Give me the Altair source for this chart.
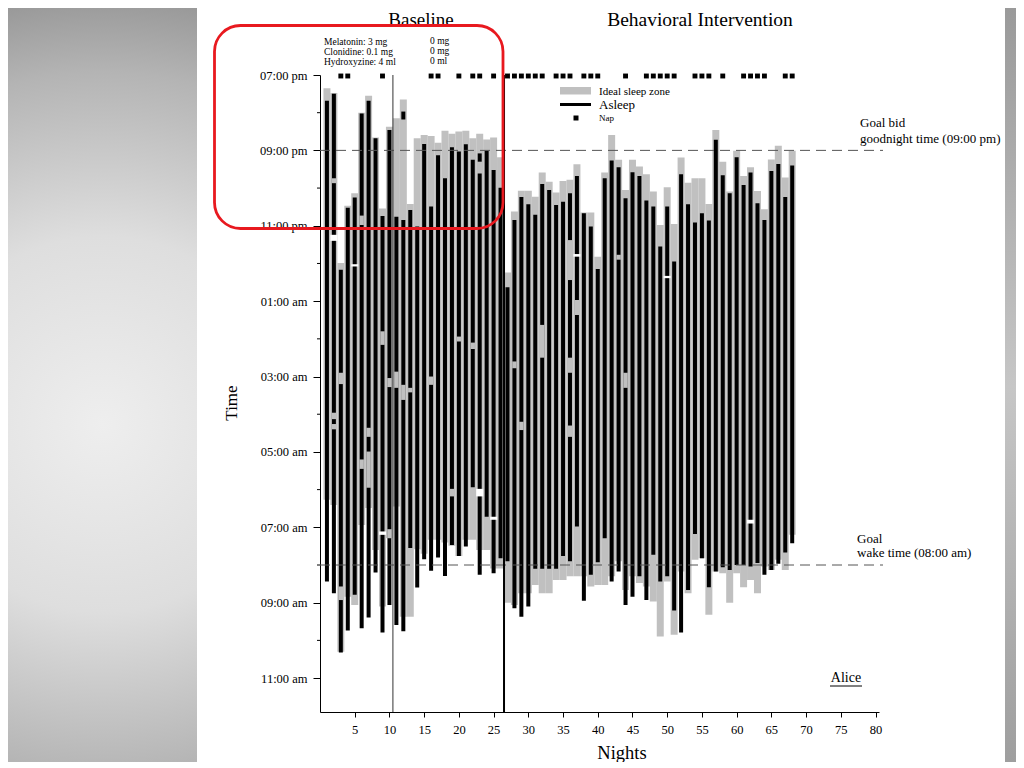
import altair as alt
import pandas as pd

# ---------------- data (hours after 07:00 pm) ----------------
nights = list(range(1, 69))

bed_start = [0.35, 0.48, 4.99, 3.47, 3.14, 1.00, 0.55, 1.66, 3.54, 1.37,
             1.15, 0.65, 3.42, 1.68, 1.59, 1.62, 1.80, 1.48, 1.56, 1.50,
             1.48, 1.68, 1.56, 1.71, 1.66, 2.18, 5.24, 3.62, 3.07, 3.07,
             3.23, 2.59, 2.83, 3.12, 2.81, 2.78, 2.37, 3.65, 3.65, 4.82,
             2.59, 1.59, 2.25, 3.05, 2.25, 2.43, 2.63, 3.09, 3.98, 2.98,
             3.95, 2.19, 2.86, 2.74, 2.74, 3.42, 1.46, 2.30, 3.09, 2.01,
             2.68, 2.45, 3.08, 3.56, 2.24, 1.88, 2.72, 2.01]
bed_end = [11.27, 11.41, 15.30, 13.84, 14.06, 11.94, 11.49, 12.60, 14.10, 12.29,
           11.45, 14.37, 14.37, 12.58, 12.70, 12.33, 12.33, 12.40, 12.49, 12.76,
           12.33, 12.33, 12.60, 12.60, 13.09, 13.09, 14.00, 14.06, 13.75, 13.75,
           13.53, 13.75, 13.75, 13.40, 13.40, 13.30, 13.30, 13.30, 13.57, 13.53,
           13.53, 13.30, 12.90, 13.66, 13.30, 13.48, 13.57, 13.97, 14.90, 13.44,
           14.85, 13.17, 13.75, 12.86, 12.82, 14.32, 13.17, 13.22, 14.00, 13.22,
           13.59, 13.40, 13.75, 13.04, 13.13, 12.86, 13.13, 12.20]
sleep_start = [0.68, 0.50, 5.17, 3.52, 3.25, 1.02, 0.68, 1.68, 3.74, 1.46,
               3.76, 3.85, 3.58, 4.02, 1.83, 3.49, 2.13, 2.74, 1.92, 2.03,
               1.84, 2.25, 2.61, 2.01, 2.52, 2.99, 5.63, 3.85, 3.24, 3.43,
               3.71, 2.89, 3.05, 3.45, 3.36, 3.14, 2.68, 3.67, 4.02, 5.15,
               2.74, 2.27, 2.45, 3.27, 2.58, 2.68, 3.33, 3.49, 4.55, 3.49,
               4.95, 2.63, 3.43, 3.91, 3.67, 3.86, 1.72, 2.66, 3.14, 2.18,
               2.92, 2.59, 3.40, 3.85, 2.55, 2.36, 3.24, 2.40]
sleep_end = [13.44, 13.75, 15.32, 14.74, 13.79, 14.68, 14.39, 13.20, 14.79, 14.06,
             14.59, 14.76, 12.55, 13.60, 12.85, 13.15, 12.80, 13.29, 12.47, 12.76,
             12.51, 10.94, 13.26, 11.72, 13.22, 12.82, 12.90, 14.15, 14.37, 14.10,
             13.10, 13.10, 13.10, 13.10, 12.76, 12.90, 11.98, 13.95, 13.26, 12.93,
             12.29, 13.44, 13.17, 14.06, 13.84, 13.30, 13.93, 12.73, 13.44, 13.30,
             14.21, 14.79, 13.66, 12.18, 12.82, 13.59, 13.17, 13.06, 13.13, 13.00,
             13.00, 13.04, 12.95, 13.26, 13.13, 12.97, 12.67, 12.42]

# night awakenings while in bed (asleep bar interrupted)
wake_night = [2, 2, 2, 3, 3, 6, 6, 7, 7, 9, 10, 10, 11, 12, 13, 16, 19, 20, 22,
              28, 29, 32, 36, 36, 36, 37, 43, 44]
wake_start = [2.74, 8.96, 9.26, 7.90, 13.57, 3.73, 10.20, 9.36, 9.99, 6.80, 8.04,
              12.05, 7.87, 8.22, 8.30, 8.00, 10.98, 6.94, 7.10, 7.60, 9.20, 6.63,
              4.38, 7.50, 9.30, 5.97, 4.77, 7.90]
wake_end = [2.87, 9.13, 9.40, 8.20, 13.93, 3.98, 10.45, 9.60, 10.95, 7.16, 8.28,
            12.29, 8.30, 8.62, 8.42, 8.22, 11.18, 7.07, 7.27, 7.78, 9.42, 7.50,
            5.44, 7.90, 9.60, 6.37, 4.90, 8.30]

# out of bed during the night
out_night = [2, 5, 9, 23, 25, 37, 50, 62]
out_start = [4.24, 5.02, 12.11, 10.98, 11.72, 4.75, 5.33, 11.80]
out_end = [4.40, 5.08, 12.20, 11.18, 11.80, 4.82, 5.39, 11.90]

# early short sleep bouts
bout_night = [12, 23]
bout_start = [0.97, 2.08]
bout_end = [1.18, 2.30]

nap_nights = [3, 4, 9, 16, 17, 20, 22, 23, 25, 27, 28, 29, 30, 31, 32, 34, 35, 36,
              38, 39, 40, 44, 47, 48, 49, 50, 51, 54, 55, 56, 58, 61, 62, 63, 64,
              67, 68]

medication_change = [10.5]
phase_change = [26.5]
goal_hours = [2, 13]          # 09:00 pm bid goodnight, 08:00 am wake
minor_hours = [1, 3, 5, 7, 9, 11, 13, 15]
major_hours = [0, 2, 4, 6, 8, 10, 12, 14, 16]
hour_labels = ["07:00 pm", "09:00 pm", "11:00 pm", "01:00 am", "03:00 am",
               "05:00 am", "07:00 am", "09:00 am", "11:00 am"]
night_ticks = list(range(5, 81, 5))

# ---------------- tables ----------------
df = pd.DataFrame({"night": nights, "bed_start": bed_start, "bed_end": bed_end,
                   "sleep_start": sleep_start, "sleep_end": sleep_end})
wake_df = pd.DataFrame({"night": wake_night, "start": wake_start, "end": wake_end})
out_df = pd.DataFrame({"night": out_night, "start": out_start, "end": out_end})
bout_df = pd.DataFrame({"night": bout_night, "start": bout_start, "end": bout_end})
nap_df = pd.DataFrame({"night": nap_nights})
med_df = pd.DataFrame({"night": medication_change})
phase_df = pd.DataFrame({"night": phase_change})
goal_df = pd.DataFrame({"h": goal_hours})
minor_df = pd.DataFrame({"h": minor_hours})
one = pd.DataFrame({"k": [0]})

W, H = 559, 637
FONT = "Liberation Serif"
GRAY = "#c0c0c0"

xscale = alt.Scale(domain=[0, 80.5], nice=False, zero=False, padding=0)
yscale = alt.Scale(domain=[0, 16.9], nice=False, zero=False, reverse=True, padding=0)

label_expr = "[" + ",".join("'%s'" % l for l in hour_labels) + "][datum.value / 2]"

xaxis = alt.Axis(values=night_ticks, title=None, grid=False, tickSize=5,
                 labelPadding=6, labelFont=FONT, labelFontSize=12.5,
                 labelColor="black", domainColor="black", tickColor="black",
                 labelFlush=False, labelOverlap=False)
yaxis = alt.Axis(values=major_hours, labelExpr=label_expr, title=None, grid=False,
                 tickSize=7, labelPadding=6, labelFont=FONT, labelFontSize=12.5,
                 labelColor="black", domainColor="black", tickColor="black",
                 labelFlush=False, labelOverlap=False)


def X(f):
    return alt.X(f, type="quantitative", scale=xscale, axis=xaxis)


def Y(f):
    return alt.Y(f, type="quantitative", scale=yscale, axis=yaxis)


layers = []

# page background (slide frame)
grad_left = {"gradient": "radial", "x1": 0.5, "y1": 0.55, "r1": 0, "x2": 0.5, "y2": 0.55,
             "r2": 0.62,
             "stops": [{"offset": 0, "color": "#eeeeee"}, {"offset": 0.4, "color": "#dedede"},
                       {"offset": 0.75, "color": "#b4b4b4"}, {"offset": 1, "color": "#8a8a8a"}]}
grad_right = {"gradient": "linear", "x1": 0, "y1": 0, "x2": 0, "y2": 1,
              "stops": [{"offset": 0, "color": "#9a9a9a"}, {"offset": 0.5, "color": "#c6c6c6"},
                        {"offset": 1, "color": "#9e9e9e"}]}
layers.append(alt.Chart(one).mark_rect(fill=grad_left).encode(
    x=alt.value(-312), x2=alt.value(-123), y=alt.value(-67), y2=alt.value(690)))
layers.append(alt.Chart(one).mark_rect(fill=grad_right).encode(
    x=alt.value(685), x2=alt.value(700), y=alt.value(-67), y2=alt.value(690)))

# bars
layers.append(alt.Chart(df).mark_bar(color=GRAY, size=7).encode(
    x=X("night"), y=Y("bed_start"), y2="bed_end"))
layers.append(alt.Chart(df).mark_bar(color="black", size=4).encode(
    x=X("night"), y=Y("sleep_start"), y2="sleep_end"))
layers.append(alt.Chart(bout_df).mark_bar(color="black", size=4).encode(
    x=X("night"), y=Y("start"), y2="end"))
layers.append(alt.Chart(wake_df).mark_bar(color=GRAY, size=4.4).encode(
    x=X("night"), y=Y("start"), y2="end"))
layers.append(alt.Chart(out_df).mark_bar(color="white", size=7).encode(
    x=X("night"), y=Y("start"), y2="end"))

# naps on top line
layers.append(alt.Chart(nap_df).mark_square(size=24, color="black", opacity=1).encode(
    x=X("night"), y=alt.value(1)))

# minor hour ticks
layers.append(alt.Chart(minor_df).mark_rule(color="black").encode(
    y=Y("h"), x=alt.value(-3), x2=alt.value(0)))

# goal lines
layers.append(alt.Chart(goal_df).mark_rule(color="#555555", strokeDash=[10, 6], strokeWidth=1).encode(
    y=Y("h"), x=alt.value(0), x2=alt.value(563)))

# condition change lines
layers.append(alt.Chart(med_df).mark_rule(color="#333333", strokeWidth=1).encode(
    x=X("night"), y=alt.value(0), y2=alt.value(H)))
layers.append(alt.Chart(phase_df).mark_rule(color="black", strokeWidth=2).encode(
    x=X("night"), y=alt.value(0), y2=alt.value(H)))


def label(text, x, y, size, align="left", baseline="alphabetic", angle=0):
    return alt.Chart(one).mark_text(text=text, font=FONT, fontSize=size, align=align,
                                    baseline=baseline, angle=angle, color="black").encode(
        x=alt.value(x), y=alt.value(y))


# titles / annotations
layers += [
    label("Baseline", 101, -49, 19, align="center"),
    label("Behavioral Intervention", 380, -49, 19.5, align="center"),
    label("Melatonin: 3 mg", 4, -30.5, 9.5),
    label("Clonidine: 0.1 mg", 4, -20.5, 9.5),
    label("Hydroxyzine: 4 ml", 4, -10, 9.5),
    label("0 mg", 110, -31.5, 9.5),
    label("0 mg", 110, -21.5, 9.5),
    label("0 ml", 110, -11, 9.5),
    label("Goal bid", 540, 52, 13),
    label("goodnight time (09:00 pm)", 540, 67.5, 13),
    label("Goal", 537, 468, 13),
    label("wake time (08:00 am)", 537, 482, 13),
    label("Alice", 526, 607, 14, align="center"),
    label("Time", -88, 328, 17, align="center", baseline="middle", angle=270),
    label("Nights", 302, 684, 18.5, align="center"),
    label("Ideal sleep zone", 279, 19.5, 11),
    label("Asleep", 279, 34, 13),
    label("Nap", 279, 46, 9),
]

# Alice underline
layers.append(alt.Chart(one).mark_rule(color="black", strokeWidth=1).encode(
    x=alt.value(510), x2=alt.value(542), y=alt.value(611)))

# legend symbols
layers.append(alt.Chart(one).mark_rect(color=GRAY).encode(
    x=alt.value(240), x2=alt.value(271), y=alt.value(12), y2=alt.value(19.5)))
layers.append(alt.Chart(one).mark_rule(color="black", strokeWidth=3).encode(
    x=alt.value(240), x2=alt.value(271), y=alt.value(29.5)))
layers.append(alt.Chart(one).mark_square(size=25, color="black", opacity=1).encode(
    x=alt.value(256), y=alt.value(43)))

# red highlight box
layers.append(alt.Chart(one).mark_rect(fillOpacity=0, stroke="#e8191f", strokeWidth=2.8,
                                       cornerRadius=26).encode(
    x=alt.value(-105.5), x2=alt.value(183), y=alt.value(-49.5), y2=alt.value(153.5)))

chart = alt.layer(*layers).properties(
    width=W, height=H,
    padding={"left": 312, "top": 67, "right": 137, "bottom": 50},
    autosize=alt.AutoSizeParams(type="none"),
).configure(background="white").configure_view(stroke="transparent", strokeWidth=0)

chart.save("out.html", embed_options={"renderer": "svg", "actions": False})
